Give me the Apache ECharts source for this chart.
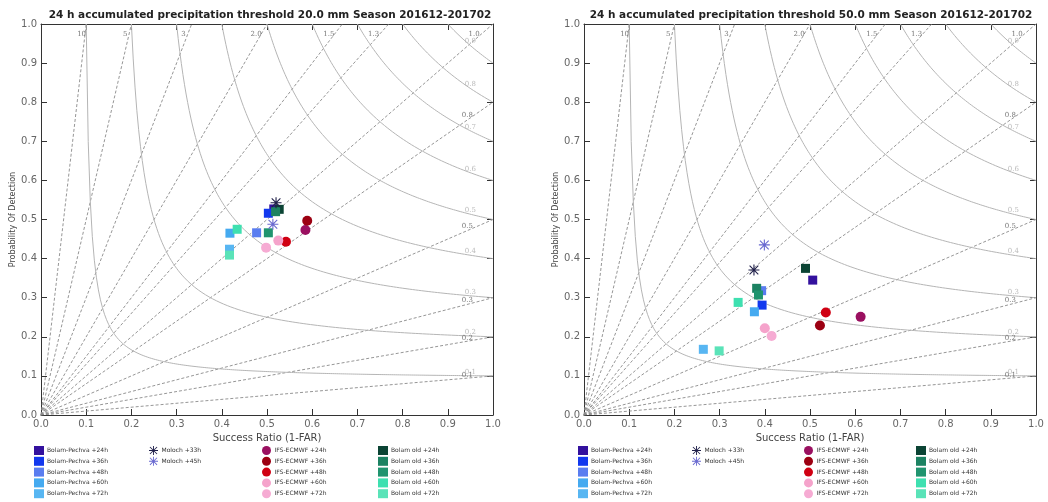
<!DOCTYPE html>
<html>
<head>
<meta charset="utf-8">
<script src="https://cdn.jsdelivr.net/npm/echarts@6/dist/echarts.min.js"></script>
<style>
  html, body { margin: 0; padding: 0; background: #fff; }
  #chartmain { width: 1048px; height: 502px; }
</style>
</head>
<body>
<div id="chartmain"></div>
<script>
// series names (legend order)
var seriesNames = [
    'Bolam-Pechva +24h', 'Bolam-Pechva +36h', 'Bolam-Pechva +48h', 'Bolam-Pechva +60h', 'Bolam-Pechva +72h',
    'Moloch +33h', 'Moloch +45h',
    'IFS-ECMWF +24h', 'IFS-ECMWF +36h', 'IFS-ECMWF +48h', 'IFS-ECMWF +60h', 'IFS-ECMWF +72h',
    'Bolam old +24h', 'Bolam old +36h', 'Bolam old +48h', 'Bolam old +60h', 'Bolam old +72h'
];
// threshold 20 mm : success ratio / POD
var sr20  = [0.515, 0.503, 0.477, 0.418, 0.417, 0.520, 0.513, 0.585, 0.589, 0.542, 0.525, 0.498, 0.527, 0.519, 0.503, 0.434, 0.417];
var pod20 = [0.527, 0.516, 0.466, 0.465, 0.424, 0.543, 0.488, 0.473, 0.497, 0.443, 0.446, 0.428, 0.526, 0.520, 0.466, 0.475, 0.409];
// threshold 50 mm
var sr50  = [0.506, 0.394, 0.393, 0.377, 0.264, 0.376, 0.399, 0.612, 0.522, 0.535, 0.400, 0.415, 0.490, 0.382, 0.386, 0.341, 0.299];
var pod50 = [0.345, 0.281, 0.318, 0.264, 0.168, 0.371, 0.435, 0.251, 0.229, 0.262, 0.222, 0.202, 0.375, 0.324, 0.307, 0.288, 0.164];

// background reference lines
var biasValues = [10, 5, 3, 2, 1.5, 1.3, 1, 0.8, 0.5, 0.3, 0.2, 0.1];
var biasLabels = ['10', '5', '3', '2.0', '1.5', '1.3', '1.0', '0.8', '0.5', '0.3', '0.2', '0.1'];
var csiValues = [0.1, 0.2, 0.3, 0.4, 0.5, 0.6, 0.7, 0.8, 0.9];
var tickLabels = ['0.0', '0.1', '0.2', '0.3', '0.4', '0.5', '0.6', '0.7', '0.8', '0.9', '1.0'];
var titles = [
    '24 h accumulated precipitation threshold 20.0 mm Season 201612-201702',
    '24 h accumulated precipitation threshold 50.0 mm Season 201612-201702'
];

// styles
var colors = [
    '#33119e', '#1238ee', '#5a7df0', '#45aaf0', '#58b6f2',
    '#20204a', '#6a6ad0',
    '#9a1060', '#9c0012', '#d00012', '#f5a3cb', '#f6abd3',
    '#0b4434', '#1c8262', '#20946f', '#3ee0b0', '#5ae3b8'
];
var STAR = 'path://M9,0L11,0L11,20L9,20Z M0,9L20,9L20,11L0,11Z M1.4,2.8L2.8,1.4L18.6,17.2L17.2,18.6Z M17.2,1.4L18.6,2.8L2.8,18.6L1.4,17.2Z';
function symbolOf(i) {
    if (i === 5 || i === 6) return STAR;
    if (i >= 7 && i <= 11) return 'circle';
    return 'rect';
}

var grids = [
    { left: 41, top: 24, width: 452, height: 391 },
    { left: 584, top: 24, width: 452, height: 391 }
];
var FONT = 'DejaVu Sans';

document.addEventListener('DOMContentLoaded', function () {
    var chart = echarts.init(document.getElementById('chartmain'));
    initChart(chart);
});

function axisPair(g) {
    var common = {
        type: 'value', min: 0, max: 1, interval: 0.1, gridIndex: g,
        splitLine: { show: false },
        axisLine: { show: true, onZero: false, lineStyle: { color: '#333', width: 1 } },
        axisTick: { show: true, inside: true, length: 6, lineStyle: { color: '#333' } }
    };
    var lab = {
        show: true, color: '#666', fontSize: 10, fontFamily: FONT, margin: 4,
        formatter: function (v) { return tickLabels[Math.round(v * 10)]; }
    };
    var xs = [
        Object.assign({}, common, {
            position: 'bottom', axisLabel: lab,
            name: 'Success Ratio (1-FAR)', nameLocation: 'middle', nameGap: 16,
            nameTextStyle: { color: '#444', fontSize: 10, fontFamily: FONT }
        }),
        Object.assign({}, common, { position: 'top', axisLabel: { show: false } })
    ];
    var ys = [
        Object.assign({}, common, {
            position: 'left', axisLabel: lab,
            name: 'Probability Of Detection', nameLocation: 'middle', nameGap: 20,
            nameTextStyle: { color: '#444', fontSize: 8, fontFamily: FONT }
        }),
        Object.assign({}, common, { position: 'right', axisLabel: { show: false } })
    ];
    return { xs: xs, ys: ys };
}

function backgroundSeries(g) {
    var out = [];
    var xi = g * 2, yi = g * 2;
    // bias lines (dashed)
    biasValues.forEach(function (b) {
        out.push({
            type: 'line', xAxisIndex: xi, yAxisIndex: yi, silent: true, symbol: 'none',
            data: [[0, 0], [Math.min(1, 1 / b), Math.min(1, b)]],
            lineStyle: { color: '#8a8a8a', width: 0.9, type: [3, 2] }, z: 1, animation: false
        });
    });
    // CSI curves (solid)
    csiValues.forEach(function (c) {
        var pts = [];
        for (var k = 0; k <= 200; k++) {
            var sr = c + (1 - c) * k / 200;
            var pod = 1 / (1 / c + 1 - 1 / sr);
            pts.push([sr, Math.min(1, pod)]);
        }
        out.push({
            type: 'line', xAxisIndex: xi, yAxisIndex: yi, silent: true, symbol: 'none',
            data: pts, lineStyle: { color: '#b5b5b5', width: 1 }, z: 1, animation: false
        });
    });
    // labels
    var bl = biasValues.map(function (b, i) {
        if (b >= 1) return { value: [0.965 / b, 0.965], name: biasLabels[i] };
        return { value: [0.95, 0.95 * b], name: biasLabels[i] };
    });
    out.push({
        type: 'scatter', xAxisIndex: xi, yAxisIndex: yi, silent: true, symbolSize: 0, data: bl,
        label: { show: true, position: 'inside', offset: [-3, -3], formatter: '{b}', color: '#555', fontSize: 7, fontFamily: 'DejaVu Serif' },
        z: 2, animation: false
    });
    var cl = csiValues.map(function (c) {
        return { value: [0.95, 1 / (1 / c + 1 - 1 / 0.95)], name: String(c) };
    });
    out.push({
        type: 'scatter', xAxisIndex: xi, yAxisIndex: yi, silent: true, symbolSize: 0, data: cl,
        label: { show: true, position: 'inside', offset: [0, -4], formatter: '{b}', color: '#aaa', fontSize: 7, fontFamily: 'DejaVu Serif' },
        z: 2, animation: false
    });
    return out;
}

function pointSeries(g, srList, podList) {
    var order = [0, 1, 2, 3, 4, 7, 8, 9, 10, 11, 12, 13, 14, 15, 16, 5, 6];
    return order.map(function (i) {
        var sym = symbolOf(i);
        return {
            name: seriesNames[i], type: 'scatter', xAxisIndex: g * 2, yAxisIndex: g * 2,
            symbol: sym, symbolSize: sym === 'circle' ? 10 : (sym === 'rect' ? 9 : 11),
            itemStyle: { color: colors[i], opacity: 1 },
            data: [[srList[i], podList[i]]], z: 5
        };
    });
}

function legends() {
    var groups = [[0, 1, 2, 3, 4], [5, 6], [7, 8, 9, 10, 11], [12, 13, 14, 15, 16]];
    var colX = [[34, 149, 262, 378], [578, 692, 804, 916]];
    var out = [];
    colX.forEach(function (cols) {
        groups.forEach(function (grp, j) {
            out.push({
                orient: 'vertical', left: cols[j], top: 446,
                data: grp.map(function (i) { return seriesNames[i]; }),
                itemWidth: 10, itemHeight: 9, itemGap: 1.8, padding: 0,
                textStyle: { fontSize: 6, color: '#333', fontFamily: FONT, padding: [0, 0, 0, -2] },
                selectedMode: false
            });
        });
    });
    return out;
}

function initChart(chart) {
    var a0 = axisPair(0), a1 = axisPair(1);
    var series = [].concat(
        backgroundSeries(0), backgroundSeries(1),
        pointSeries(0, sr20, pod20), pointSeries(1, sr50, pod50)
    );
    chart.setOption({
        animation: false,
        backgroundColor: '#fff',
        title: [
            { text: titles[0], left: 265, top: 5, textAlign: 'center',
              textStyle: { fontSize: 10.5, fontWeight: 'bold', color: '#222', fontFamily: FONT } },
            { text: titles[1], left: 806, top: 5, textAlign: 'center',
              textStyle: { fontSize: 10.5, fontWeight: 'bold', color: '#222', fontFamily: FONT } }
        ],
        legend: legends(),
        grid: grids,
        xAxis: [a0.xs[0], a0.xs[1], Object.assign(a1.xs[0], { gridIndex: 1 }), Object.assign(a1.xs[1], { gridIndex: 1 })],
        yAxis: [a0.ys[0], a0.ys[1], Object.assign(a1.ys[0], { gridIndex: 1 }), Object.assign(a1.ys[1], { gridIndex: 1 })],
        series: series
    });
}
</script>
</body>
</html>
